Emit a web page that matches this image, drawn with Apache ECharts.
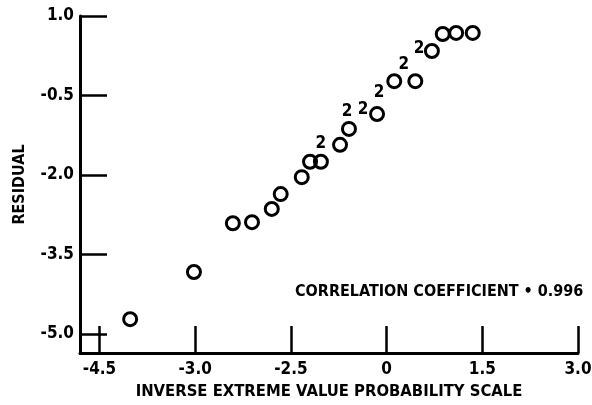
<!DOCTYPE html>
<html>
<head>
<meta charset="utf-8">
<script src="https://cdn.jsdelivr.net/npm/echarts@6/dist/echarts.min.js"></script>
<style>
html,body{margin:0;padding:0;background:#fff;}
#c{width:592px;height:405px;}
</style>
</head>
<body>
<div id="c"></div>
<script>
// Plotted points (x = inverse extreme value probability, y = residual)
const circleX = [-4.02, -3.02, -2.41, -2.11, -1.80, -1.66, -1.33, -1.20, -1.03, -0.73, -0.59, -0.15, 0.12, 0.45, 0.71, 0.88, 1.09, 1.35];
const circleY = [-4.72, -3.83, -2.91, -2.89, -2.64, -2.36, -2.04, -1.75, -1.75, -1.43, -1.13, -0.85, -0.23, -0.23, 0.34, 0.66, 0.68, 0.68];
// "2" markers (two coincident observations)
const doubleX = [-1.03, -0.62, -0.37, -0.12, 0.27, 0.51];
const doubleY = [-1.40, -0.81, -0.77, -0.45, 0.08, 0.38];
// Axis ticks and labels as printed
const xTickValues = [-4.5, -3.0, -1.5, 0, 1.5, 3.0];
const xTickLabels = ['-4.5', '-3.0', '-2.5', '0', '1.5', '3.0'];
const yTickValues = [1.0, -0.5, -2.0, -3.5, -5.0];
const yTickLabels = ['1.0', '-0.5', '-2.0', '-3.5', '-5.0'];
const xTitle = 'INVERSE EXTREME VALUE PROBABILITY SCALE';
const yTitle = 'RESIDUAL';
const note = 'CORRELATION COEFFICIENT \u2022 0.996';

const FONT = '"DejaVu Sans Condensed", sans-serif';
const chart = echarts.init(document.getElementById('c'), null, {renderer: 'canvas'});

const lbl = (vals, labels) => v => {
  for (let i = 0; i < vals.length; i++) if (Math.abs(vals[i] - v) < 1e-6) return labels[i];
  return '';
};

chart.setOption({
  animation: false,
  backgroundColor: '#fff',
  grid: {left: 80, top: 16, right: 14, bottom: 52, containLabel: false, outerBoundsMode: 'none'},
  xAxis: {
    type: 'value', min: -4.806, max: 3.0,
    splitLine: {show: false},
    axisLine: {show: true, onZero: false, lineStyle: {color: '#000', width: 3}},
    axisTick: {show: true, inside: true, length: 27, customValues: xTickValues, lineStyle: {color: '#000', width: 2.5}},
    axisLabel: {show: true, customValues: xTickValues, formatter: lbl(xTickValues, xTickLabels),
      color: '#000', fontFamily: FONT, fontWeight: 'bold', fontSize: 17, margin: 8},
    name: xTitle, nameLocation: 'middle', nameGap: 27,
    nameTextStyle: {color: '#000', fontFamily: FONT, fontWeight: 'bold', fontSize: 16.5}
  },
  yAxis: {
    type: 'value', min: -5.358, max: 1.0,
    splitLine: {show: false},
    axisLine: {show: true, onZero: false, lineStyle: {color: '#000', width: 3}},
    axisTick: {show: true, inside: true, length: 27, customValues: yTickValues, lineStyle: {color: '#000', width: 2.5}},
    axisLabel: {show: true, customValues: yTickValues, formatter: lbl(yTickValues, yTickLabels),
      color: '#000', fontFamily: FONT, fontWeight: 'bold', fontSize: 17, margin: 6},
    name: yTitle, nameLocation: 'middle', nameGap: 52, nameRotate: 90,
    nameTextStyle: {color: '#000', fontFamily: FONT, fontWeight: 'bold', fontSize: 16}
  },
  series: [
    {
      type: 'scatter',
      data: circleX.map((x, i) => [x, circleY[i]]),
      symbol: 'circle', symbolSize: 13,
      itemStyle: {color: 'rgba(255,255,255,0)', borderColor: '#000', borderWidth: 3, opacity: 1},
      emphasis: {disabled: true}
    },
    {
      type: 'scatter',
      data: doubleX.map((x, i) => [x, doubleY[i]]),
      symbol: 'circle', symbolSize: 1,
      itemStyle: {color: '#fff', opacity: 1},
      label: {show: true, position: 'inside', formatter: '2', color: '#000', opacity: 1,
        textBorderWidth: 0, textBorderColor: 'transparent',
        fontFamily: FONT, fontWeight: 'bold', fontSize: 17},
      emphasis: {disabled: true}
    }
  ],
  graphic: [
    {type: 'text', left: 295, top: 284,
      style: {text: note, fill: '#000', font: 'bold 16px ' + FONT}}
  ]
});
</script>
</body>
</html>
